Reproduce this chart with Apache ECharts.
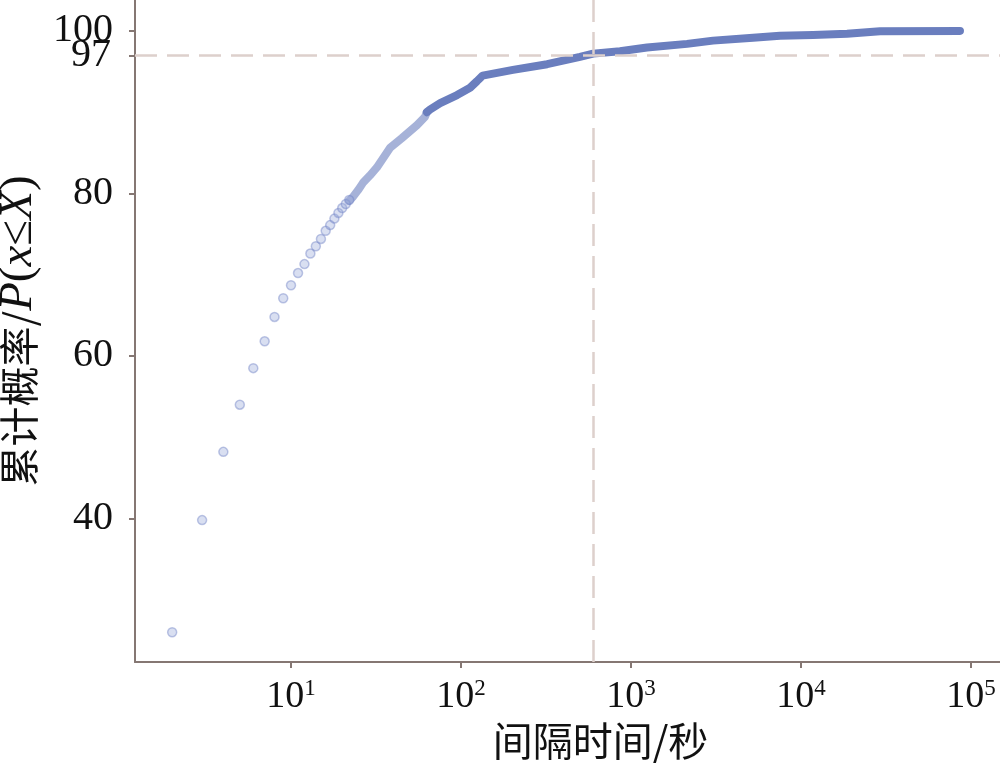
<!DOCTYPE html>
<html>
<head>
<meta charset="utf-8">
<script src="https://cdn.jsdelivr.net/npm/echarts@6/dist/echarts.min.js"></script>
<style>html,body{margin:0;padding:0;background:#fff}#c{width:1000px;height:767px}</style>
</head>
<body>
<div id="c"></div>
<script>
// Sparse points (interval in seconds, cumulative %)
var sparseX = [2,3,4,5,6,7,8,9,10,11,12,13,14,15,16,17,18,19,20,21,22];
var sparseY = [26.0,39.8,48.2,54.0,58.5,61.8,64.8,67.1,68.7,70.2,71.3,72.6,73.5,74.4,75.4,76.1,76.9,77.6,78.2,78.7,79.2];
// Dense, lighter part of the curve
var lightX = [22,23.2,24.8,26.5,29.1,32,38.2,44.9,55.1,61.3,63];
var lightY = [79.1,79.6,80.4,81.3,82.2,83.2,85.6,86.8,88.4,89.4,90.0];
// Dense, solid part of the curve
var denseX = [63,65.6,75.4,94.8,113,124,134,202,321,501,598,861,1242,2135,3036,5225,7520,11750,18650,29150,86100];
var denseY = [90.0,90.3,91.1,92.1,93.0,93.8,94.5,95.2,95.9,96.8,97.2,97.5,97.95,98.4,98.8,99.15,99.4,99.5,99.65,99.95,100];
// Reference lines
var refY = 97;
var refX = 600;
// Tick labels
var yTicks = [40,60,80,100];
var yTicksExtra = [97];
var xTicks = [10,100,1000,10000,100000];

function zip(a,b){return a.map(function(v,i){return [v,b[i]];});}

var serif = "'Liberation Serif','Times New Roman','Noto Sans CJK SC',serif";
var cjk = "'Noto Sans CJK SC','Liberation Serif',serif";
var axisColor = '#857773';
var blue = '#6a7ebe';
var yMin = 22.34, yMax = 103.8;

var chart = echarts.init(document.getElementById('c'), null, {renderer:'canvas'});
chart.setOption({
  animation:false,
  grid:{left:135,right:0,top:0,bottom:105,containLabel:false,outerBoundsMode:'none'},
  xAxis:{
    type:'log', logBase:10, min:1.209, max:148000,
    axisLine:{lineStyle:{color:axisColor,width:2}},
    axisTick:{show:true,length:6,inside:false,customValues:xTicks,lineStyle:{color:axisColor,width:2}},
    splitLine:{show:false},
    minorTick:{show:false},
    axisLabel:{
      customValues:xTicks,
      margin:15,
      hideOverlap:false,
      formatter:function(v){
        var e = Math.round(Math.log10(v));
        if (Math.abs(v-Math.pow(10,e))/v > 1e-6) return '';
        return '{b|10}{s|'+e+'}';
      },
      rich:{
        b:{fontFamily:serif,fontSize:38,color:'#111'},
        s:{fontFamily:serif,fontSize:23,color:'#111',padding:[0,0,17,0]}
      }
    },
    name:'间隔时间/秒',
    nameLocation:'middle',
    nameGap:52,
    nameTextStyle:{fontFamily:cjk,fontSize:40,color:'#111',padding:[0,0,0,66]}
  },
  yAxis:[{
    type:'value', min:yMin, max:yMax,
    axisLine:{show:true,lineStyle:{color:axisColor,width:2}},
    axisTick:{show:true,length:6,customValues:yTicks,lineStyle:{color:axisColor,width:2}},
    splitLine:{show:false},
    axisLabel:{customValues:yTicks,margin:22,hideOverlap:false,showMinLabel:true,showMaxLabel:true,fontFamily:serif,fontSize:40,color:'#111'},
    name:'{c|累计概率/}{i|P}{n|(}{i|x}{n|≤}{i|X}{n|)}',
    nameLocation:'middle',
    nameGap:84,
    nameRotate:90,
    nameTextStyle:{
      rich:{
        c:{fontFamily:cjk,fontSize:40,color:'#111'},
        i:{fontFamily:serif,fontSize:47,fontStyle:'italic',color:'#111'},
        n:{fontFamily:serif,fontSize:47,color:'#111'}
      }
    }
  },{
    type:'value', min:yMin, max:yMax, position:'left', offset:0,
    axisLine:{show:false},
    axisTick:{show:true,length:6,customValues:yTicksExtra,lineStyle:{color:axisColor,width:2}},
    splitLine:{show:false},
    axisLabel:{customValues:yTicksExtra,margin:24,hideOverlap:false,fontFamily:serif,fontSize:40,color:'#111'}
  }],
  series:[
    {
      type:'line', data:zip(lightX,lightY), showSymbol:false, symbol:'none',
      lineStyle:{color:blue,width:8,opacity:0.6,cap:'round',join:'round'},
      z:2
    },
    {
      type:'line', data:zip(denseX,denseY), showSymbol:false, symbol:'none',
      lineStyle:{color:blue,width:8,cap:'round',join:'round'},
      z:3,
      markLine:{
        silent:true, symbol:'none', animation:false,
        label:{show:false},
        lineStyle:{color:'#ddd0cc',width:2.5,type:[22,10]},
        data:[{yAxis:refY},{xAxis:refX}]
      }
    },
    {
      type:'scatter', data:zip(sparseX,sparseY), symbolSize:9,
      itemStyle:{color:'rgba(150,165,215,0.45)',borderColor:'rgba(110,128,195,0.55)',borderWidth:1.5},
      z:4
    }
  ]
});
</script>
</body>
</html>
